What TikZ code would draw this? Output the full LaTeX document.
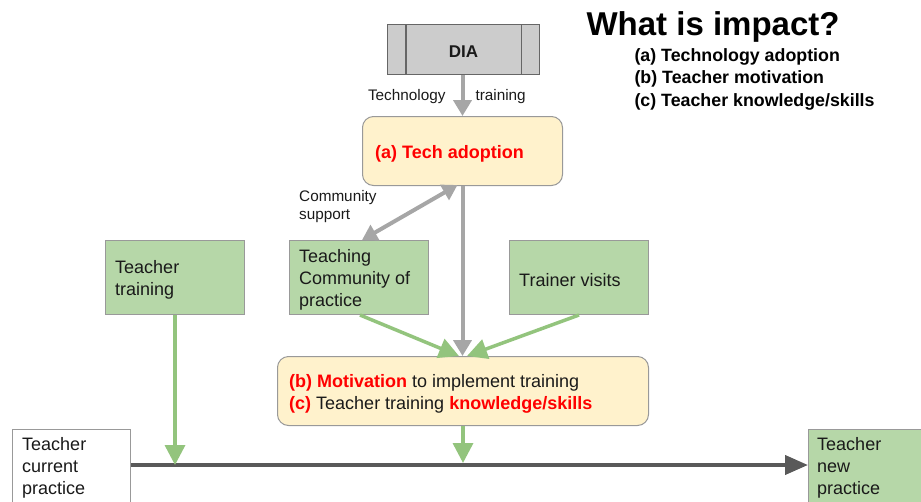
\documentclass[tikz,border=0pt]{standalone}
\usepackage{fontspec}
\setmainfont{Liberation Sans}
\usetikzlibrary{arrows.meta}
\definecolor{gfill}{HTML}{B6D7A8}
\definecolor{yfill}{HTML}{FFF2CC}
\definecolor{bord}{HTML}{999999}
\definecolor{diafill}{HTML}{CCCCCC}
\definecolor{diabord}{HTML}{666666}
\definecolor{garrow}{HTML}{A6A6A6}
\definecolor{grarrow}{HTML}{93C47D}
\definecolor{dline}{HTML}{595959}
\definecolor{txt}{HTML}{1A1A1A}
\definecolor{red}{HTML}{FF0000}
\begin{document}
\begin{tikzpicture}[x=1pt,y=-1pt,
  every node/.style={text=txt},
  body/.style={font=\fontsize{18}{22}\selectfont},
  small/.style={font=\fontsize{15.3}{18}\selectfont},
  greenbox/.style={draw=bord,fill=gfill,line width=1pt,anchor=north west,
     minimum width=139pt,minimum height=74pt},
  yellowbox/.style={draw=bord,fill=yfill,line width=1pt,anchor=north west,
     rounded corners=11pt},
  boxtext/.style={body,align=left,inner xsep=0pt},
  grayarrow/.style={draw=garrow,line width=4pt,-{Triangle[length=16pt,width=18pt]}},
  graydouble/.style={draw=garrow,line width=4pt,{Triangle[length=15pt,width=17pt]}-{Triangle[length=15pt,width=17pt]}},
  greenarrow/.style={draw=grarrow,line width=3.5pt,-{Triangle[length=20pt,width=20pt]}},
  darkarrow/.style={draw=dline,line width=4pt,-{Triangle[length=23pt,width=19pt]}}
]
\useasboundingbox (0,0) rectangle (921,501);
\clip (0,0) rectangle (921,501);

% title
\node[anchor=west,font=\fontsize{33}{36}\selectfont\bfseries,text=black] (title) at (583,27) {What is impact?};
\node[anchor=west,font=\fontsize{17.8}{20}\selectfont\bfseries,text=black] (la) at (631,57) {(a) Technology adoption};
\node[anchor=west,font=\fontsize{17.8}{20}\selectfont\bfseries,text=black] (lb) at (631,79) {(b) Teacher motivation};
\node[anchor=west,font=\fontsize{17.8}{20}\selectfont\bfseries,text=black] (lc) at (631,102) {(c) Teacher knowledge/skills};

% DIA
\node[draw=diabord,fill=diafill,line width=1.2pt,anchor=north west,minimum width=152pt,minimum height=50pt,
      font=\fontsize{17}{20}\selectfont\bfseries] (dia) at (387,24) {};
\node[font=\fontsize{17}{20}\selectfont\bfseries] (diatext) at ([yshift=-2pt]dia.center) {DIA};
\draw[diabord,line width=1.2pt] ([xshift=19pt]dia.north west) -- ([xshift=19pt]dia.south west);
\draw[diabord,line width=1.2pt] ([xshift=-19pt]dia.north east) -- ([xshift=-19pt]dia.south east);

% tech adoption
\node[yellowbox,minimum width=200pt,minimum height=69pt] (tech) at (362,116) {};
\node[boxtext,anchor=west] (techtext) at ([xshift=13pt,yshift=-2.5pt]tech.west)
  {\textcolor{red}{\bfseries (a) Tech adoption}};

\draw[grayarrow] (dia.south -| tech.north) -- (tech.north);
\node[small,anchor=east] (techlbl) at (449,96.5) {Technology};
\node[small,anchor=west] (trainlbl) at (472,96.5) {training};

% green boxes
\node[greenbox] (tt) at (105,240) {};
\node[boxtext,anchor=west] (tttext) at ([xshift=10pt,yshift=-2.5pt]tt.west) {Teacher\\training};
\node[greenbox] (comm) at (289,240) {};
\node[boxtext,anchor=west] (commtext) at ([xshift=10pt,yshift=-2.5pt]comm.west) {Teaching\\Community of\\practice};
\node[greenbox] (tv) at (509,240) {};
\node[boxtext,anchor=west] (tvtext) at ([xshift=10pt,yshift=-2.5pt]tv.west) {Trainer visits};

% community support
\node[small,anchor=north west,align=left,inner sep=0pt] (cs) at (299,190.5) {Community\\support};
\draw[graydouble] ([xshift=-5pt,yshift=1pt]tech.south) -- ([xshift=3pt]comm.north);

% motivation
\node[yellowbox,minimum width=371pt,minimum height=69pt] (mot) at (277,356) {};
\node[boxtext,anchor=west] (mottext) at ([xshift=12pt,yshift=-2.5pt]mot.west)
  {\textcolor{red}{\bfseries (b) Motivation} to implement training\\
   \textcolor{red}{\bfseries (c)} Teacher training \textcolor{red}{\bfseries knowledge/skills}};

\draw[grayarrow] (tech.south) -- (tech.south |- mot.north);
\draw[greenarrow] ([xshift=1pt]comm.south) -- ([xshift=-4pt]mot.north);
\draw[greenarrow] (tv.south) -- ([xshift=4pt]mot.north);

% practice
\node[draw=bord,fill=white,line width=1pt,anchor=north west,minimum width=118pt,minimum height=90pt] (cur) at (12,429) {};
\node[boxtext,anchor=north west] (curtext) at ([xshift=10pt,yshift=-5pt]cur.north west) {Teacher\\current\\practice};
\node[draw=bord,fill=gfill,line width=1pt,anchor=north west,minimum width=125pt,minimum height=90pt] (new) at (808,429) {};
\node[boxtext,anchor=north west] (newtext) at ([xshift=9pt,yshift=-5pt]new.north west) {Teacher\\new\\practice};

\coordinate (lineY) at (0,465);
\draw[darkarrow] (cur.east |- lineY) -- (new.west |- lineY);
\draw[greenarrow] (tt.south) -- (tt.south |- lineY);
\draw[greenarrow] (mot.south) -- ([yshift=2pt]mot.south |- lineY);
\end{tikzpicture}
\end{document}
